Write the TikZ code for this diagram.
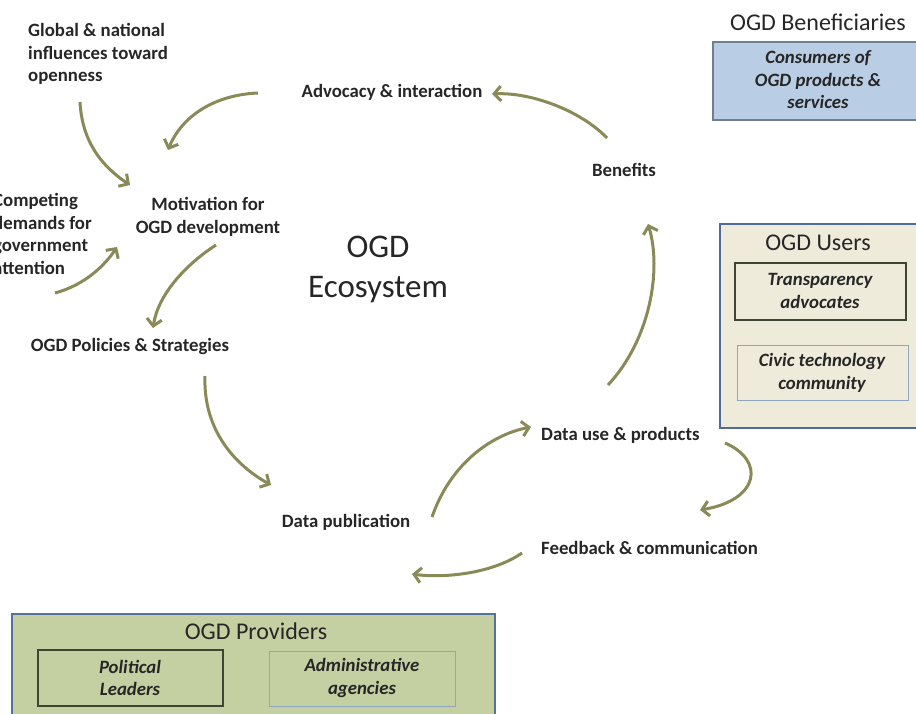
\documentclass[tikz,border=0pt]{standalone}
\usepackage{fontspec}
\setmainfont{Carlito}
\usetikzlibrary{arrows.meta}
\definecolor{arr}{HTML}{8A8A58}
\definecolor{benfill}{HTML}{B9CDE5}
\definecolor{benline}{HTML}{6E7F94}
\definecolor{usefill}{HTML}{EFEBDA}
\definecolor{useline}{HTML}{4F6B9C}
\definecolor{provfill}{HTML}{C4CFA2}
\definecolor{provline}{HTML}{55739A}
\definecolor{darkline}{HTML}{3F4535}
\definecolor{lightline}{HTML}{8FA6BF}
\tikzset{
  lbl/.style={font=\fontsize{18.8}{22.8}\selectfont\bfseries, inner sep=0pt, text=black!85, align=center},
  lbll/.style={lbl, align=left},
  title/.style={font=\fontsize{24}{28}\selectfont, inner sep=0pt, text=black!85},
  ital/.style={font=\fontsize{18.8}{22.5}\selectfont\bfseries\itshape, inner sep=0pt, align=center, text=black!85},
  flow/.style={draw=arr, line width=3pt, -{Straight Barb[length=7pt,width=15pt,line width=3pt]}},
  panel/.style={line width=1.8pt}
}
\begin{document}
\begin{tikzpicture}[x=1pt,y=-1pt]
\useasboundingbox (0,0) rectangle (916,713);
% text nodes
\node[lbll, anchor=west] (glob) at (28,54) {Global \& national\\influences toward\\openness};
\node[lbl] (adv) at (392,92) {Advocacy \& interaction};
\node[lbl] (ben) at (624,170) {Benefits};
\node[lbll, anchor=west] (comp) at (-7,234) {Competing\\demands for\\government\\attention};
\node[lbl] (mot) at (208,217) {Motivation for\\OGD development};
\node[font=\fontsize{33}{40}\selectfont, align=center, inner sep=0pt, text=black!85] (eco) at (378,269) {OGD\\Ecosystem};
\node[lbl] (pol) at (130,346) {OGD Policies \& Strategies};
\node[lbl] (pub) at (346,522) {Data publication};
\node[lbl, anchor=west] (use) at (541,435) {Data use \& products};
\node[lbl, anchor=west] (fb) at (541,548) {Feedback \& communication};
% beneficiaries
\node[title] (bent) at (818,22) {OGD Beneficiaries};
\draw[panel, draw=benline, fill=benfill] (713,42) rectangle (925,120);
\node[ital] (cons) at (818,80) {Consumers of\\OGD products \&\\services};
% users
\draw[panel, draw=useline, fill=usefill] (720,224) rectangle (925,428);
\node[title] (uset) at (818,243) {OGD Users};
\draw[line width=1.3pt, draw=darkline] (735,263) rectangle (906,320);
\node[ital] (tra) at (820,291) {Transparency\\advocates};
\draw[line width=1pt, draw=lightline] (737,345) rectangle (908,400);
\node[ital] (civ) at (822,373) {Civic technology\\community};
% providers
\draw[panel, draw=provline, fill=provfill] (12,614) rectangle (495,725);
\node[title] (provt) at (256,631) {OGD Providers};
\draw[line width=1.3pt, draw=darkline] (38,650) rectangle (223,706);
\node[ital] (polit) at (130,678) {Political\\Leaders};
\draw[line width=1pt, draw=lightline] (269,651) rectangle (455,706);
\node[ital] (adm) at (362,678) {Administrative\\agencies};
% arrow end points
\coordinate (a1s) at (258,93);  \coordinate (a1e) at (168,150);
\coordinate (a2s) at (80,102);  \coordinate (a2e) at (130,185);
\coordinate (a3s) at (55,293);  \coordinate (a3e) at (117,247);
\coordinate (a4s) at (216,245); \coordinate (a4e) at (153,328);
\coordinate (a5s) at (205,376); \coordinate (a5e) at (271,485);
\coordinate (a6s) at (432,517); \coordinate (a6e) at (531,427);
\coordinate (a7s) at (725,443); \coordinate (a7e) at (700,510);
\coordinate (a8s) at (522,553); \coordinate (a8e) at (412,574);
\coordinate (a9s) at (608,385); \coordinate (a9e) at (648,224);
\coordinate (a10s) at (607,138); \coordinate (a10e) at (492,94);
% arrows
\draw[flow] (a1s) .. controls (210,95) and (180,120) .. (a1e);
\draw[flow] (a2s) .. controls (82,140) and (100,165) .. (a2e);
\draw[flow] (a3s) .. controls (85,285) and (105,265) .. (a3e);
\draw[flow] (a4s) .. controls (185,265) and (158,295) .. (a4e);
\draw[flow] (a5s) .. controls (203,430) and (235,465) .. (a5e);
\draw[flow] (a6s) .. controls (450,465) and (490,435) .. (a6e);
\draw[flow] (a7s) .. controls (765,460) and (760,500) .. (a7e);
\draw[flow] (a8s) .. controls (490,575) and (440,578) .. (a8e);
\draw[flow] (a9s) .. controls (650,340) and (662,270) .. (a9e);
\draw[flow] (a10s) .. controls (580,110) and (530,92) .. (a10e);
\end{tikzpicture}
\end{document}
